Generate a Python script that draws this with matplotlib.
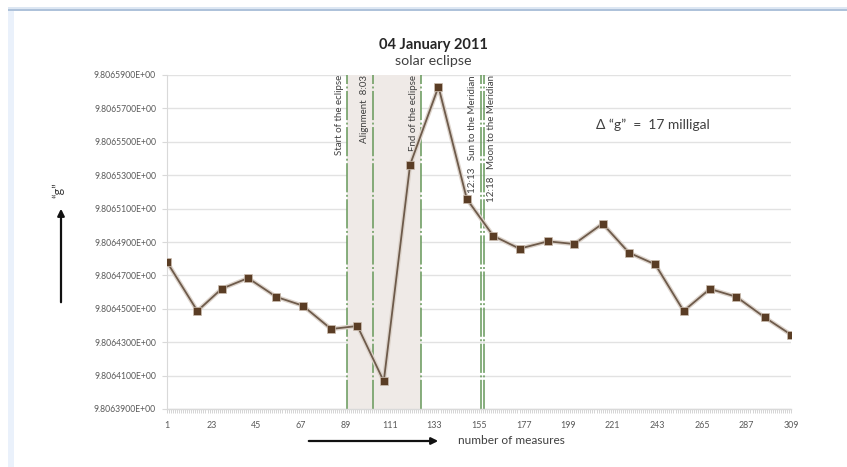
"""Gravity measurements during the 04 January 2011 solar eclipse."""
import matplotlib
matplotlib.use("Agg")
import matplotlib.pyplot as plt
import matplotlib.patheffects as pe
from matplotlib.patches import Rectangle, FancyArrowPatch
from matplotlib.ticker import FuncFormatter
import numpy as np

plt.rcParams["font.family"] = ["Lato", "DejaVu Sans"]
plt.rcParams["lines.scale_dashes"] = False

# measure number of each gravity reading, and the value of "g"
measures = [1, 16, 28, 41, 55, 68, 82, 95, 108, 121, 135, 149,
            162, 175, 189, 202, 216, 229, 242, 256, 269, 282, 296, 309]
g_values = [9.8064780, 9.8064487, 9.8064620, 9.8064684, 9.8064571, 9.8064519,
            9.8064379, 9.8064397, 9.8064066, 9.8065363, 9.8065830, 9.8065157,
            9.8064937, 9.8064860, 9.8064904, 9.8064888, 9.8065010, 9.8064836,
            9.8064766, 9.8064487, 9.8064619, 9.8064572, 9.8064449, 9.8064345]

# eclipse events (measure number, label, label side)
event_x = [90, 102.5, 126.5, 155.8, 157.4]
event_labels = ["Start of the eclipse", "Alignment  8:03", "End of the eclipse",
                "12:13   Sun to the Meridian", "12:18   Moon to the Meridian"]
event_side = [-1, -1, -1, -1, 1]
eclipse_span = (90, 126.5)

x_ticks = list(range(1, 310, 22))
y_ticks = np.linspace(9.80639, 9.80659, 11)

GREEN = "#66995a"
LABEL = "#595959"
TEXT = "#404040"

W, H = 847, 467
fig = plt.figure(figsize=(W / 100, H / 100), dpi=100)
fig.patch.set_facecolor("white")

# window-like border (light blue) of the original screenshot
fig.patches.append(Rectangle((8 / W, 1 - 10 / H), 1, 3 / H, transform=fig.transFigure,
                             facecolor="#dde7f3", edgecolor="none"))
fig.patches.append(Rectangle((8 / W, 1 - 10.5 / H), 1, 1.3 / H, transform=fig.transFigure,
                             facecolor="#aec2da", edgecolor="none"))
fig.patches.append(Rectangle((8 / W, 0), 6 / W, 1 - 10.5 / H, transform=fig.transFigure,
                             facecolor="#eaf1fb", edgecolor="none"))

ax = fig.add_axes([167 / W, 1 - 409 / H, (791 - 167) / W, (409 - 75) / H])
ax.set_xlim(1, 309)
ax.set_ylim(y_ticks[0], y_ticks[-1])

for y in y_ticks:
    ax.axhline(y, color="#e2e2e2", linewidth=1.0, zorder=0)

ax.axvspan(*eclipse_span, color="#efeae7", zorder=1, linewidth=0)
for x in event_x:
    ax.axvline(x, color=GREEN, linewidth=1.1, zorder=2,
               linestyle=(0, (21, 1.8, 1.4, 1.8)))

ax.plot(measures, g_values, color="#6e5b4b", linewidth=1.3, zorder=4,
        path_effects=[pe.Stroke(linewidth=3.2, foreground="#ddd4cc"), pe.Normal()])
ax.plot(measures, g_values, linestyle="none", marker="s", markersize=5.2,
        markerfacecolor="#5a3d25", markeredgecolor="#cdbfb2", markeredgewidth=0.5,
        zorder=5)

for x, lab, side in zip(event_x, event_labels, event_side):
    ax.annotate(lab, xy=(x, 1), xycoords=("data", "axes fraction"),
                xytext=(side * 5.5, 0), textcoords="offset points",
                rotation=90, ha="center", va="top", fontsize=7, color=TEXT)

fig.text(596 / W, 1 - 125 / H, "\u0394 \u201cg\u201d  =  17 milligal",
         fontsize=10, color=TEXT, va="center", ha="left")

for side in ("top", "right"):
    ax.spines[side].set_visible(False)
ax.spines["left"].set_color("#d9d9d9")
ax.spines["bottom"].set_visible(False)

ax.set_xticks(x_ticks)
ax.set_xticks(range(1, 310), minor=True)
ax.tick_params(axis="x", which="both", length=3, width=0.5, color="#c4c4c4",
               labelsize=6.4, labelcolor=LABEL, pad=6, direction="out")
ax.set_yticks(y_ticks)
ax.yaxis.set_major_formatter(FuncFormatter(lambda v, _: f"{v:.7E}"))
ax.tick_params(axis="y", length=3.6, width=0.8, color="#d9d9d9",
               labelsize=6.2, labelcolor=LABEL, pad=4.3)

# baseline of the plot area
fig.lines.append(plt.Line2D([167 / W, 791 / W], [1 - 409 / H] * 2,
                            transform=fig.transFigure, color="#d9d9d9", linewidth=1))

fig.text(433 / W, 1 - 45 / H, "04 January 2011", ha="center", va="center",
         fontsize=10.5, fontweight="bold", color="#262626")
fig.text(433 / W, 1 - 61 / H, "solar eclipse", ha="center", va="center",
         fontsize=10.3, color=TEXT)

fig.text(58 / W, 1 - 190 / H, "\u201cg\u201d", rotation=90, ha="center", va="center",
         fontsize=9, color=TEXT)
fig.patches.append(FancyArrowPatch((61 / W, 1 - 305 / H), (61 / W, 1 - 206 / H),
                                   transform=fig.transFigure, arrowstyle="-|>",
                                   mutation_scale=10, color="#111111", linewidth=1.6))

fig.text(458 / W, 1 - 441 / H, "number of measures", ha="left", va="center",
         fontsize=8.6, color=TEXT)
fig.patches.append(FancyArrowPatch((306 / W, 1 - 441 / H), (441 / W, 1 - 441 / H),
                                   transform=fig.transFigure, arrowstyle="-|>",
                                   mutation_scale=10, color="#111111", linewidth=1.6))

fig.savefig("out.png", dpi=100)
